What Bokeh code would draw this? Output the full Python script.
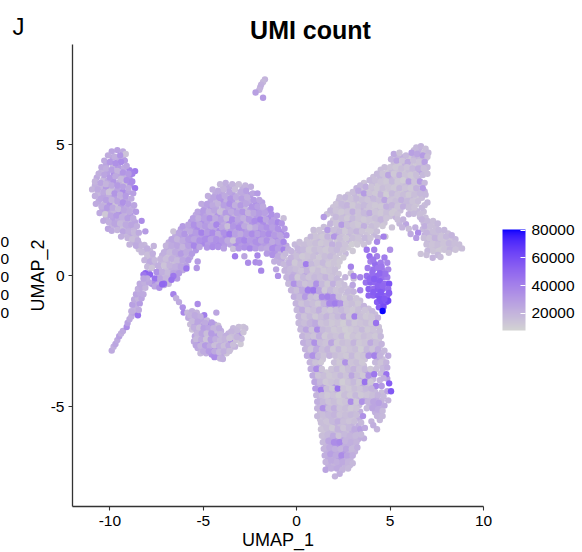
from bokeh.plotting import figure
from bokeh.layouts import column as col_layout
from bokeh.models import LinearColorMapper, ColorBar, FixedTicker, Range1d, ColumnDataSource
from bokeh.core.properties import value
from bokeh.embed import file_html
from bokeh.resources import INLINE

title_text = "UMI count"
panel_letter = "J"
x_label = "UMAP_1"
y_label = "UMAP_2"
x_ticks = [-10, -5, 0, 5, 10]
y_ticks = [-5, 0, 5]
bar_ticks = [20000, 40000, 60000, 80000]
clipped_digits = ["0", "0", "0", "0", "0"]

# every cell: (UMAP_1, UMAP_2, UMI count in thousands)
top_islet = [(-1.7,7.5,20),(-1.8,7.4,18),(-1.9,7.3,21),(-1.95,7.2,22),(-2.0,7.1,20),(-2.2,7.0,28),(-1.8,6.8,30)]

left_lobe = [
(-9.9,4.75,26),(-9.6,4.8,27),(-9.3,4.75,24),(-9.15,4.65,14),(-10.1,4.6,23),(-9.75,4.55,22),(-9.45,4.6,32),(-9.2,4.4,30),
(-10.3,4.4,24),(-10.0,4.35,31),(-9.7,4.3,34),(-9.4,4.35,36),(-9.1,4.2,26),(-8.65,4.0,42),(-8.8,3.9,40),(-10.45,4.15,24),
(-10.2,4.1,22),(-9.9,4.05,28),(-9.6,4.0,20),(-9.3,3.95,32),(-9.0,3.9,30),(-10.6,3.9,22),(-10.3,3.85,26),(-10.0,3.75,30),
(-9.7,3.8,24),(-9.4,3.7,18),(-9.1,3.65,34),(-8.8,3.6,36),(-8.65,3.35,44),(-10.8,3.6,20),(-10.5,3.55,26),(-10.2,3.5,20),
(-9.9,3.45,24),(-9.6,3.45,30),(-9.3,3.4,28),(-9.0,3.35,24),(-8.75,3.15,28),(-10.95,3.3,20),(-10.65,3.3,24),(-10.35,3.2,24),
(-10.05,3.2,14),(-9.75,3.15,32),(-9.45,3.1,22),(-9.15,3.05,30),(-8.85,2.95,24),(-10.8,3.05,22),(-10.5,2.95,26),(-10.2,2.9,28),
(-9.9,2.9,20),(-9.6,2.85,26),(-9.3,2.8,34),(-9.0,2.75,28),(-8.7,2.7,26),(-10.75,2.75,24),(-10.45,2.65,22),(-10.15,2.6,30),
(-9.85,2.6,24),(-9.55,2.55,18),(-9.25,2.5,26),(-8.95,2.45,24),(-8.6,2.45,30),(-10.55,2.4,24),(-10.25,2.35,12),(-9.95,2.3,26),
(-9.65,2.3,30),(-9.35,2.25,22),(-9.05,2.2,28),(-8.75,2.2,24),(-8.3,2.1,36),(-10.35,2.1,24),(-10.05,2.05,22),(-9.75,2.0,26),
(-9.45,2.0,18),(-9.15,1.95,24),(-8.85,1.95,26),(-8.55,1.9,22),(-10.1,1.8,26),(-9.9,1.72,24),(-9.6,1.75,20),(-9.3,1.7,26),
(-9.0,1.7,22),(-8.7,1.65,18),(-8.45,1.65,24),(-8.1,1.7,30),(-9.4,1.5,22),(-9.05,1.45,20),(-8.8,1.4,16),(-8.5,1.35,22),
(-8.95,1.2,20),(-8.6,1.15,24),(-8.3,1.15,20),(-8.0,1.05,22),(-7.65,1.14,20),(-8.3,0.9,18),(-8.0,0.8,16),(-7.7,0.85,22),
(-8.15,0.6,20),(-7.85,0.55,24),(-7.6,0.6,18),(-8.0,0.35,18),(-7.75,0.3,14),(-7.9,0.1,26),
]

left_lobe_more = [
(-9.85,4.52,28),(-9.55,4.48,24),(-9.3,4.55,20),(-10.2,4.25,26),(-9.85,4.2,18),(-9.55,4.15,30),(-9.25,4.12,24),(-8.95,4.03,38),
(-10.45,3.98,20),(-10.15,3.92,28),(-9.8,3.93,34),(-9.5,3.85,26),(-9.2,3.78,22),(-8.95,3.72,30),(-10.7,3.75,24),(-10.35,3.68,18),
(-10.1,3.63,24),(-9.8,3.6,32),(-9.5,3.58,22),(-9.2,3.52,14),(-8.9,3.48,34),(-10.8,3.45,22),(-10.5,3.4,20),(-10.2,3.35,30),
(-9.9,3.3,16),(-9.6,3.28,26),(-9.3,3.22,36),(-9.0,3.2,26),(-10.65,3.15,18),(-10.35,3.05,26),(-10.05,3.03,22),(-9.75,3.0,28),
(-9.45,2.95,20),(-9.15,2.9,26),(-10.6,2.85,24),(-10.3,2.75,20),(-10.0,2.75,32),(-9.7,2.72,14),(-9.4,2.67,28),(-9.1,2.6,24),
(-8.8,2.55,22),(-10.4,2.5,26),(-10.1,2.45,24),(-9.8,2.43,20),(-9.5,2.4,32),(-9.2,2.35,20),(-8.9,2.33,30),(-10.2,2.2,22),
(-9.85,2.15,28),(-9.55,2.13,24),(-9.25,2.1,20),(-8.95,2.08,18),(-8.65,2.05,26),(-9.9,1.9,20),(-9.6,1.88,26),(-9.3,1.85,16),
(-9.0,1.82,24),(-8.7,1.8,20),(-9.15,1.58,18),(-8.85,1.55,24),(-8.6,1.5,18),(-8.75,1.28,22),(-8.45,1.25,20),(-8.15,1.18,18),
(-8.45,1.02,16),(-8.15,0.93,20),(-7.85,0.95,18),(-8.0,0.68,14),(-7.72,0.7,20),(-7.9,0.45,22),(-7.62,0.42,20),
]

arch = [
(-4.1,3.5,18),(-3.8,3.55,22),(-3.45,3.5,20),(-3.1,3.5,16),(-2.75,3.45,20),(-2.45,3.4,22),(-4.5,3.3,22),(-4.2,3.25,24),(-3.9,3.3,20),
(-3.6,3.2,26),(-3.3,3.3,16),(-3.0,3.2,24),(-2.7,3.25,28),(-2.35,3.15,26),(-2.1,3.15,30),(-4.75,3.05,22),(-4.45,3.0,26),(-4.15,3.0,30),
(-3.85,3.05,24),(-3.55,2.95,32),(-3.25,3.0,24),(-2.95,2.95,28),(-2.65,3.0,22),(-2.3,2.9,30),(-2.0,2.9,26),(-5.1,2.75,24),(-4.8,2.75,28),
(-4.5,2.7,24),(-4.2,2.75,20),(-3.9,2.7,28),(-3.6,2.75,34),(-3.3,2.7,22),(-3.0,2.7,30),(-2.7,2.75,26),(-2.4,2.65,32),(-2.1,2.65,28),
(-1.8,2.65,24),(-1.4,2.55,36),(-5.3,2.45,26),(-5.0,2.5,30),(-4.7,2.45,22),(-4.4,2.5,26),(-4.1,2.45,16),(-3.8,2.4,30),(-3.5,2.45,24),
(-3.2,2.4,28),(-2.9,2.45,32),(-2.6,2.4,20),(-2.3,2.4,26),(-2.0,2.4,30),(-1.7,2.4,28),(-1.35,2.35,34),(-1.05,2.3,30),(-0.7,2.2,16),
(-5.55,2.2,28),(-5.25,2.2,22),(-4.95,2.2,28),(-4.65,2.2,34),(-4.35,2.2,24),(-4.05,2.15,28),(-3.75,2.2,18),(-3.45,2.15,36),(-3.15,2.15,26),
(-2.85,2.2,22),(-2.55,2.15,30),(-2.25,2.1,36),(-1.95,2.15,40),(-1.65,2.15,26),(-1.35,2.05,30),(-1.0,2.05,38),(-0.8,2.0,32),
(-6.1,1.9,30),(-5.8,1.95,26),(-5.5,1.95,34),(-5.2,1.95,26),(-4.9,1.9,30),(-4.6,1.9,24),(-4.3,1.95,38),(-4.0,1.85,26),(-3.7,1.9,16),
(-3.4,1.9,32),(-3.1,1.85,36),(-2.8,1.9,24),(-2.5,1.85,18),(-2.2,1.85,24),(-1.9,1.85,30),(-1.6,1.85,34),(-1.3,1.85,28),(-1.0,1.8,34),(-0.65,1.8,30),
(-6.6,1.7,14),(-6.3,1.65,26),(-6.0,1.6,32),(-5.7,1.7,24),(-5.4,1.65,30),(-5.1,1.65,40),(-4.8,1.65,30),(-4.5,1.65,36),(-4.2,1.6,24),
(-3.9,1.65,34),(-3.6,1.6,42),(-3.3,1.6,28),(-3.0,1.6,24),(-2.7,1.6,30),(-2.4,1.6,36),(-2.1,1.6,28),(-1.8,1.6,32),(-1.5,1.6,36),(-1.2,1.55,30),(-0.9,1.55,26),(-0.55,1.55,34),
(-6.7,1.4,26),(-6.4,1.4,20),(-6.1,1.35,24),(-5.8,1.4,30),(-5.5,1.4,26),(-5.2,1.35,34),(-4.9,1.4,36),(-4.6,1.4,28),(-4.3,1.4,34),(-4.0,1.35,32),
(-3.7,1.35,24),(-3.4,1.35,14),(-3.1,1.35,34),(-2.8,1.35,38),(-2.5,1.35,30),(-2.2,1.3,34),(-1.9,1.35,26),(-1.6,1.35,34),(-1.3,1.3,24),(-1.0,1.3,28),(-0.7,1.3,38),
(-7.0,1.15,20),(-6.7,1.15,24),(-6.4,1.15,26),(-6.1,1.1,20),(-5.8,1.15,28),(-5.5,1.15,38),(-5.2,1.1,26),(-4.8,1.08,32),(-4.5,1.1,36),(-4.2,1.1,34),(-3.9,1.05,28),
(-3.4,1.03,16),(-3.1,1.05,32),(-2.8,1.08,34),(-2.5,1.05,38),(-2.2,1.05,30),(-1.9,1.05,26),(-1.6,1.05,24),(-1.3,1.05,36),(-1.0,1.05,30),(-0.7,1.0,40),
(-7.1,0.9,22),(-6.8,0.9,18),(-6.5,0.9,24),(-6.2,0.85,30),(-5.9,0.9,24),(-5.6,0.85,30),(-3.3,0.75,42),(-2.8,0.75,26),(-2.1,0.78,38),(-1.6,0.85,30),(-1.3,0.8,34),(-1.0,0.75,24),(-0.7,0.75,16),
(-7.3,0.65,20),(-7.0,0.65,16),(-6.7,0.65,22),(-6.4,0.6,18),(-6.1,0.6,26),(-5.8,0.6,30),(-5.3,0.55,30),(-2.6,0.5,36),(-2.2,0.52,36),(-1.2,0.55,22),(-0.9,0.5,22),
(-7.4,0.4,22),(-7.1,0.4,14),(-6.8,0.4,20),(-6.5,0.35,22),(-6.2,0.35,26),(-5.9,0.38,28),(-2.0,0.5,34),(-1.9,0.2,38),(-1.1,0.25,26),
(-7.5,0.15,34),(-7.2,0.15,22),(-6.9,0.12,18),(-6.6,0.1,26),(-6.3,0.1,30),(-5.9,0.28,44),(-5.35,0.3,32),(-1.0,0.0,34),
(-8.1,0.1,52),(-7.85,0.05,50),(-7.6,-0.1,46),(-7.3,-0.12,26),(-7.0,-0.1,20),(-6.7,-0.12,24),(-6.4,-0.1,30),(-6.6,0.0,44),(-8.2,0.05,44),
(-7.75,-0.3,36),(-7.4,-0.35,22),(-7.1,-0.35,24),(-6.85,-0.3,18),(-6.7,-0.15,46),
]

arch_more = [
(-3.95,3.42,20),(-3.62,3.38,24),(-3.28,3.42,18),(-2.9,3.36,22),(-4.35,3.15,24),(-4.0,3.17,26),(-3.7,3.08,18),(-3.42,3.12,28),(-3.12,3.08,20),(-2.82,3.1,24),(-2.5,3.08,30),
(-4.6,2.88,26),(-4.3,2.87,20),(-4.05,2.88,32),(-3.75,2.85,22),(-3.42,2.83,30),(-3.12,2.84,16),(-2.8,2.85,26),(-2.52,2.85,24),(-2.18,2.78,34),(-1.85,2.8,28),
(-4.92,2.62,26),(-4.6,2.6,30),(-4.3,2.62,24),(-3.98,2.56,18),(-3.68,2.6,26),(-3.38,2.57,32),(-3.08,2.55,24),(-2.78,2.58,18),(-2.48,2.53,28),(-2.18,2.52,34),(-1.88,2.52,26),(-1.58,2.5,30),
(-5.4,2.33,24),(-5.12,2.35,30),(-4.82,2.33,26),(-4.52,2.35,20),(-4.22,2.32,32),(-3.92,2.3,24),(-3.62,2.3,30),(-3.32,2.28,20),(-3.02,2.3,26),(-2.72,2.3,34),(-2.42,2.27,24),(-2.12,2.27,30),(-1.82,2.28,22),(-1.5,2.2,36),(-1.2,2.18,28),
(-5.65,2.07,30),(-5.35,2.08,24),(-5.05,2.07,34),(-4.78,2.05,28),(-4.48,2.07,22),(-4.18,2.04,30),(-3.9,2.02,24),(-3.6,2.03,36),(-3.28,2.02,28),(-2.98,2.03,32),(-2.68,2.03,20),(-2.38,2.0,32),(-2.08,2.0,28),(-1.78,2.0,36),(-1.48,1.97,24),(-1.15,1.93,32),
(-6.2,1.78,28),(-5.9,1.78,24),(-5.6,1.82,30),(-5.3,1.8,36),(-5.02,1.78,24),(-4.72,1.77,32),(-4.42,1.78,26),(-4.12,1.73,36),(-3.82,1.77,22),(-3.52,1.76,30),(-3.22,1.73,26),(-2.92,1.75,34),(-2.62,1.73,28),(-2.32,1.72,30),(-2.02,1.73,36),(-1.72,1.73,26),(-1.42,1.72,32),(-1.12,1.68,26),(-0.82,1.67,36),
(-6.5,1.52,24),(-6.2,1.5,28),(-5.9,1.5,22),(-5.6,1.53,32),(-5.3,1.5,28),(-5.0,1.52,30),(-4.7,1.53,38),(-4.4,1.52,30),(-4.1,1.48,26),(-3.8,1.5,36),(-3.5,1.47,30),(-3.2,1.48,24),(-2.9,1.47,34),(-2.6,1.47,26),(-2.3,1.45,30),(-2.0,1.47,36),(-1.7,1.48,28),(-1.4,1.45,26),(-1.1,1.43,34),(-0.8,1.42,24),
(-6.85,1.28,22),(-6.55,1.28,26),(-6.25,1.25,22),(-5.95,1.25,28),(-5.65,1.28,34),(-5.35,1.25,30),(-5.05,1.23,38),(-4.75,1.24,30),(-4.45,1.25,34),(-4.15,1.22,36),(-3.85,1.2,30),(-3.55,1.2,26),(-3.25,1.2,36),(-2.95,1.22,30),(-2.65,1.2,32),(-2.35,1.17,28),(-2.05,1.2,34),(-1.75,1.2,30),(-1.45,1.18,26),(-1.15,1.17,36),(-0.85,1.15,30),(-0.55,1.15,24),
(-6.95,1.02,24),(-6.65,1.02,20),(-6.35,1.0,22),(-6.05,0.98,26),(-5.75,1.02,24),(-5.4,0.98,32),(-1.45,0.93,28),(-1.15,0.9,32),(-0.85,0.88,20),
(-7.2,0.78,22),(-6.9,0.78,14),(-6.6,0.75,20),(-6.3,0.73,24),(-6.0,0.75,22),(-5.7,0.72,26),(-1.05,0.62,20),(-0.8,0.63,24),
(-7.25,0.52,18),(-6.95,0.52,20),(-6.6,0.5,16),(-6.3,0.48,24),(-6.0,0.48,20),(-7.35,0.28,20),(-7.0,0.27,16),(-6.7,0.23,22),(-6.4,0.22,24),(-6.1,0.22,24),
(-7.35,0.02,24),(-7.05,0.0,18),(-6.8,0.02,22),(-6.5,-0.02,28),(-7.5,-0.22,28),(-7.2,-0.22,20),(-6.95,-0.22,22),
]

tail = [
(-9.9,-2.85,24),(-9.8,-2.7,22),(-9.7,-2.6,26),(-9.6,-2.45,24),(-9.5,-2.3,28),(-9.4,-2.2,22),(-9.3,-2.1,24),(-9.1,-1.95,36),(-9.05,-1.8,28),
(-8.95,-1.65,24),(-8.85,-1.55,22),(-8.75,-1.4,26),(-8.65,-1.3,20),(-8.85,-1.35,22),(-8.5,-1.5,46),(-8.45,-1.3,24),(-8.6,-1.1,22),(-8.8,-1.1,28),(-8.4,-1.05,30),
(-8.7,-0.9,24),(-8.5,-0.85,20),(-8.3,-0.85,26),(-8.6,-0.7,26),(-8.4,-0.65,24),(-8.2,-0.7,24),(-8.5,-0.5,22),(-8.3,-0.45,24),(-8.1,-0.45,20),(-8.4,-0.3,24),
(-8.15,-0.25,22),(-7.9,-0.25,26),(-7.6,-0.4,26),(-7.35,-0.45,34),(-7.1,-0.3,48),(-7.2,-0.32,50),(-8.0,-0.1,24),(-8.2,-0.1,26),
]

lower_blob = [
(-6.6,-0.7,40),(-6.45,-0.85,22),(-6.3,-1.0,24),(-6.1,-1.2,34),(-6.05,-1.4,38),(-5.3,-1.07,36),(-4.3,-1.4,26),
(-5.85,-1.4,18),(-5.6,-1.35,22),(-5.35,-1.4,20),(-4.95,-1.5,42),(-5.8,-1.6,24),(-5.55,-1.6,28),(-5.3,-1.6,24),(-5.05,-1.7,26),(-4.8,-1.7,18),
(-5.7,-1.85,16),(-5.45,-1.85,30),(-5.2,-1.85,22),(-4.95,-1.9,30),(-4.7,-1.9,36),(-4.4,-1.85,24),(-4.2,-1.9,16),(-5.6,-2.05,14),(-5.35,-2.1,24),
(-5.1,-2.1,34),(-4.85,-2.1,28),(-4.6,-2.1,22),(-4.3,-2.1,18),(-4.05,-2.1,22),(-3.4,-2.0,18),(-3.1,-1.95,16),(-2.85,-1.95,14),(-2.75,-2.0,16),
(-5.45,-2.3,26),(-5.2,-2.3,18),(-4.95,-2.3,30),(-4.7,-2.3,10),(-4.45,-2.3,28),(-4.2,-2.3,30),(-3.95,-2.35,14),(-3.65,-2.2,20),(-3.35,-2.2,16),(-3.05,-2.2,30),(-2.85,-2.15,14),
(-5.5,-2.5,24),(-5.25,-2.55,32),(-5.0,-2.5,12),(-4.75,-2.55,24),(-4.5,-2.55,30),(-4.25,-2.55,14),(-4.0,-2.55,24),(-3.75,-2.5,18),(-3.5,-2.5,40),(-3.25,-2.45,14),(-3.0,-2.6,12),(-2.95,-2.4,18),
(-5.3,-2.75,24),(-5.05,-2.8,22),(-4.8,-2.8,28),(-4.55,-2.8,36),(-4.3,-2.75,32),(-4.05,-2.8,18),(-3.8,-2.8,20),(-3.55,-2.8,14),(-3.3,-2.7,20),
(-5.15,-2.95,18),(-4.85,-2.95,22),(-4.55,-3.0,34),(-4.25,-3.0,26),(-4.0,-3.0,24),(-3.75,-2.95,14),(-4.4,-3.1,36),(-4.1,-3.15,20),(-3.95,-3.17,22),
(-5.7,-1.5,20),(-5.45,-1.5,24),(-5.15,-1.55,22),(-5.6,-1.73,18),(-5.3,-1.75,26),(-4.9,-1.8,24),(-4.55,-1.78,30),(-5.5,-1.97,22),(-5.22,-1.98,16),(-4.98,-2.0,28),(-4.72,-2.0,26),(-4.45,-2.0,20),(-4.15,-2.0,24),(-3.2,-2.08,18),(-3.5,-2.12,20),
(-5.33,-2.2,20),(-5.08,-2.2,26),(-4.82,-2.2,16),(-4.57,-2.2,30),(-4.1,-2.22,18),(-3.8,-2.28,22),(-3.5,-2.33,16),(-3.2,-2.33,20),(-5.38,-2.42,18),(-5.1,-2.43,24),(-4.85,-2.42,14),(-4.6,-2.42,28),(-4.35,-2.42,22),(-4.1,-2.45,18),(-3.85,-2.4,20),(-3.6,-2.38,14),
(-5.4,-2.65,26),(-5.15,-2.67,20),(-4.9,-2.65,30),(-4.65,-2.68,24),(-4.4,-2.65,16),(-4.15,-2.68,22),(-3.9,-2.67,16),(-3.65,-2.65,24),(-3.4,-2.62,16),(-5.0,-2.88,24),(-4.7,-2.88,30),(-4.4,-2.88,24),(-4.15,-2.9,18),(-3.9,-2.88,22),(-3.6,-2.87,16),
]

upper_band = [
(6.4,4.9,18),(6.65,4.95,20),(6.9,4.85,16),(7.05,4.7,18),(5.2,4.65,24),(5.5,4.7,14),(5.85,4.6,18),(6.15,4.7,28),(6.45,4.65,26),(6.75,4.6,30),(7.0,4.55,16),
(5.05,4.45,20),(5.35,4.4,26),(5.65,4.4,14),(5.95,4.35,24),(6.25,4.4,16),(6.55,4.35,14),(6.85,4.35,28),(7.0,4.15,18),
(4.7,4.15,16),(5.0,4.15,14),(5.3,4.15,12),(5.6,4.1,16),(5.9,4.15,14),(6.2,4.1,18),(6.5,4.1,22),(6.8,4.1,16),
(4.5,4.05,16),(4.3,3.9,18),(4.6,3.9,14),(4.9,3.85,26),(5.2,3.9,12),(5.5,3.85,22),(5.8,3.85,14),(6.1,3.85,12),(6.4,3.85,16),(6.75,3.85,18),(7.0,3.9,16),
(3.9,3.65,18),(4.2,3.65,16),(4.5,3.6,14),(4.8,3.6,12),(5.1,3.6,18),(5.4,3.6,12),(5.7,3.65,10),(6.0,3.6,28),(6.3,3.6,14),(6.6,3.6,30),(6.85,3.55,18),
(3.4,3.45,18),(3.7,3.4,22),(4.0,3.4,14),(4.3,3.35,12),(4.6,3.35,16),(4.9,3.4,14),(5.2,3.35,12),(5.5,3.35,18),(5.8,3.35,14),(6.1,3.35,12),(6.4,3.35,20),(6.75,3.35,30),
(3.0,3.2,16),(3.3,3.25,24),(3.6,3.15,30),(3.9,3.15,14),(4.2,3.15,12),(4.5,3.1,20),(4.8,3.1,10),(5.1,3.15,18),(5.4,3.1,14),(5.7,3.1,16),(6.0,3.1,12),(6.3,3.1,16),(6.6,3.15,18),(6.9,3.1,18),
(2.3,3.0,16),(2.6,3.0,18),(2.9,2.95,14),(3.2,2.95,18),(3.5,2.9,16),(3.8,2.9,14),(4.1,2.95,18),(4.4,2.85,16),(4.7,2.9,26),(5.0,2.85,14),(5.3,2.85,16),(5.6,2.9,22),(5.9,2.85,18),(6.2,2.85,14),(6.5,2.85,16),(7.0,2.8,18),
(2.1,2.75,14),(2.4,2.75,18),(2.7,2.7,20),(3.0,2.7,12),(3.3,2.65,16),(3.6,2.7,18),(3.9,2.65,14),(4.2,2.7,12),(4.5,2.65,12),(4.8,2.65,22),(5.1,2.7,20),(5.4,2.65,14),(5.7,2.65,22),(6.0,2.6,16),(6.3,2.6,14),(6.7,2.6,18),
(1.8,2.5,18),(2.1,2.5,14),(2.4,2.45,12),(2.7,2.45,14),(3.0,2.45,22),(3.3,2.45,14),(3.6,2.4,18),(3.9,2.4,24),(4.2,2.45,14),(4.5,2.4,12),(4.8,2.4,16),(5.1,2.4,12),(5.4,2.35,14),(6.0,2.35,20),(6.27,2.37,18),(6.6,2.35,16),
(1.45,2.25,30),(2.1,2.25,18),(2.4,2.2,16),(2.7,2.2,12),(3.0,2.2,18),(3.3,2.2,14),(3.6,2.15,12),(3.9,2.15,14),(4.2,2.2,16),(4.5,2.15,20),(4.8,2.2,14),(5.4,2.15,16),(5.7,2.15,20),(6.7,2.15,20),(7.0,2.1,18),(7.3,2.1,16),
(1.8,2.0,20),(2.1,2.0,14),(2.4,1.95,30),(2.7,1.95,16),(3.0,1.95,14),(3.3,1.95,12),(3.6,1.9,22),(4.0,1.9,16),(4.3,1.95,14),(4.6,1.9,12),(5.1,1.85,14),(5.65,1.85,20),(6.0,1.8,16),(6.35,1.85,22),(6.85,1.9,22),(7.15,1.9,16),(7.55,2.0,18),
(0.9,1.75,16),(1.2,1.75,14),(1.65,1.75,30),(2.0,1.75,16),(2.3,1.7,18),(2.6,1.7,12),(2.9,1.7,16),(3.2,1.7,20),(3.5,1.7,14),(3.95,1.7,12),(4.3,1.7,16),(6.1,1.6,24),(6.5,1.65,36),(6.95,1.65,20),(7.3,1.7,16),(7.6,1.75,18),(7.9,1.75,18),
(0.75,1.5,18),(1.05,1.5,14),(1.35,1.5,12),(1.65,1.5,20),(2.0,1.5,32),(2.3,1.45,16),(2.65,1.45,12),(3.0,1.45,16),(3.3,1.45,14),(3.65,1.45,18),(3.95,1.45,14),(4.35,1.45,20),(4.75,1.5,12),(6.4,1.45,30),(6.8,1.45,16),(7.1,1.45,14),(7.4,1.45,20),(7.7,1.45,14),(8.0,1.5,18),(8.3,1.55,20),
(0.4,1.2,16),(0.7,1.25,14),(1.0,1.25,16),(1.3,1.25,12),(1.6,1.25,14),(1.9,1.2,22),(2.25,1.2,18),(2.6,1.2,14),(2.95,1.2,10),(3.25,1.2,12),(3.6,1.2,14),(6.95,1.2,16),(7.25,1.2,14),(7.55,1.2,16),(7.85,1.25,14),(8.15,1.25,18),(8.45,1.25,16),(8.7,1.2,16),
(0.05,1.05,20),(0.35,1.0,18),(0.65,1.0,12),(0.95,1.0,16),(1.25,1.0,14),(1.55,1.0,12),(1.85,1.0,16),(2.15,1.0,18),(2.5,1.0,14),(3.0,0.95,12),(7.0,0.95,18),(7.3,0.95,14),(7.6,0.95,12),(7.9,1.0,14),(8.2,1.0,18),(8.5,1.0,14),(8.85,1.05,16),
(-0.3,0.95,20),(6.64,0.84,14),(6.95,0.8,16),(7.28,0.69,20),(7.55,0.8,18),(8.14,0.88,14),(7.7,0.72,16),
]

upper_band_more = [
(6.28,4.8,16),(6.55,4.8,22),(6.82,4.72,14),(5.38,4.55,18),(5.7,4.53,22),(6.0,4.52,12),(6.3,4.53,20),(6.6,4.5,18),(6.9,4.47,16),(5.2,4.28,16),(5.5,4.25,12),(5.8,4.27,20),(6.1,4.23,14),(6.4,4.22,12),(6.7,4.22,18),
(4.85,4.0,12),(5.1,4.03,18),(5.4,3.98,14),(5.7,4.0,12),(6.0,3.98,16),(6.3,3.97,14),(6.6,3.97,26),(6.9,4.0,14),(4.1,3.78,16),(4.45,3.75,18),(4.75,3.72,14),(5.0,3.73,20),(5.3,3.73,14),(5.6,3.72,12),(5.9,3.72,16),(6.2,3.72,12),(6.5,3.72,18),
(3.6,3.55,14),(4.05,3.52,18),(4.35,3.5,12),(4.65,3.48,14),(4.95,3.5,16),(5.25,3.48,12),(5.55,3.48,14),(5.85,3.48,16),(6.15,3.48,14),(6.45,3.48,12),(6.7,3.47,16),(3.2,3.35,20),(3.5,3.28,14),(3.8,3.28,12),(4.1,3.27,16),(4.4,3.23,18),(4.7,3.23,12),(5.0,3.25,14),(5.3,3.23,16),(5.6,3.22,12),(5.9,3.22,18),(6.2,3.22,14),(6.5,3.23,16),(6.85,3.22,20),
(2.75,3.1,14),(3.1,3.07,18),(3.4,3.07,12),(3.7,3.03,16),(4.0,3.05,24),(4.3,3.0,14),(4.6,3.0,12),(4.95,2.98,16),(5.2,3.0,14),(5.5,2.98,12),(5.8,2.97,14),(6.1,2.97,18),(6.4,2.97,12),(6.7,2.98,16),
(2.25,2.87,18),(2.5,2.87,14),(2.8,2.83,12),(3.1,2.82,16),(3.4,2.78,12),(3.7,2.8,18),(4.0,2.78,14),(4.3,2.77,20),(4.6,2.77,14),(4.95,2.77,12),(5.2,2.77,16),(5.5,2.77,12),(5.8,2.75,14),(6.1,2.73,16),(6.4,2.73,12),(6.85,2.7,16),
(1.95,2.62,14),(2.25,2.62,16),(2.55,2.58,18),(2.85,2.58,14),(3.15,2.55,12),(3.45,2.55,20),(3.75,2.53,14),(4.05,2.53,12),(4.35,2.55,16),(4.65,2.52,14),(4.95,2.53,18),(5.25,2.52,12),(5.55,2.5,16),(6.15,2.47,14),(6.45,2.47,18),(6.8,2.45,16),
(1.62,2.35,14),(1.95,2.38,16),(2.25,2.33,12),(2.55,2.33,18),(2.85,2.33,14),(3.15,2.33,12),(3.45,2.3,14),(3.75,2.28,18),(4.05,2.3,12),(4.35,2.3,14),(4.65,2.28,16),(5.0,2.28,14),(5.3,2.25,20),(6.6,2.25,18),(6.9,2.22,16),
(1.95,2.13,14),(2.25,2.1,12),(2.55,2.08,16),(2.85,2.08,22),(3.15,2.08,12),(3.45,2.05,16),(3.75,2.03,14),(4.1,2.03,12),(4.4,2.05,18),(4.7,2.03,14),(5.5,2.0,18),(5.85,1.97,26),(6.8,2.02,16),(7.15,2.02,18),(7.4,1.98,14),
(0.95,1.62,12),(1.3,1.62,16),(1.55,1.63,14),(1.85,1.63,12),(2.15,1.6,24),(2.45,1.58,14),(2.8,1.58,18),(3.1,1.58,12),(3.4,1.58,16),(3.75,1.58,14),(4.15,1.58,18),(1.45,1.87,16),(1.75,1.88,14),(2.15,1.85,16),(2.5,1.83,12),(2.8,1.83,18),(3.1,1.83,14),(3.4,1.82,16),(3.75,1.8,12),(4.15,1.82,14),
(6.75,1.78,18),(7.05,1.78,14),(7.45,1.85,16),(7.75,1.62,14),(7.45,1.58,16),(7.15,1.58,18),(6.85,1.55,22),(8.1,1.62,16),(7.0,1.33,18),(7.3,1.33,14),(7.6,1.33,18),(7.9,1.37,12),(8.2,1.4,14),(8.5,1.4,18),(7.15,1.08,14),(7.45,1.08,16),(7.75,1.1,12),(8.05,1.12,14),(8.35,1.13,16),(8.65,1.08,14),
(0.55,1.37,14),(0.9,1.37,12),(1.2,1.37,18),(1.5,1.37,14),(1.8,1.35,16),(2.15,1.33,12),(2.45,1.33,14),(2.8,1.33,18),(3.15,1.33,12),(3.45,1.33,14),(3.85,1.3,16),(0.2,1.12,14),(0.5,1.12,16),(0.8,1.12,12),(1.1,1.12,14),(1.4,1.12,18),(1.7,1.12,12),(2.0,1.1,14),(2.35,1.1,16),(2.75,1.08,12),
(-0.15,0.87,16),(0.15,0.9,20),(0.45,0.88,14),(0.75,0.87,12),(1.05,0.9,18),(1.35,0.87,14),(1.65,0.88,12),(1.95,0.87,16),(2.28,0.87,14),(2.62,0.85,18),(-0.45,1.02,22),(-0.1,1.2,18),(0.15,1.3,16),
]

column = [
(-0.6,0.85,18),(-0.3,0.7,20),(0.0,0.75,16),(0.3,0.75,12),(0.6,0.75,14),(0.9,0.75,16),(1.2,0.7,12),(1.5,0.75,16),(1.8,0.75,18),(2.1,0.7,14),(2.5,0.7,12),
(-0.7,0.45,18),(-0.4,0.5,22),(-0.1,0.5,12),(0.2,0.45,16),(0.5,0.45,42),(0.8,0.45,18),(1.1,0.5,14),(1.4,0.5,18),(1.7,0.45,12),(2.0,0.5,14),(2.3,0.55,12),
(-0.65,0.2,20),(-0.35,0.25,18),(-0.05,0.25,16),(0.25,0.2,14),(0.55,0.2,20),(0.85,0.25,12),(1.15,0.2,16),(1.45,0.2,12),(1.75,0.2,14),(2.05,0.25,16),(2.9,0.1,14),
(-0.55,-0.05,20),(-0.25,-0.05,24),(0.05,-0.05,12),(0.35,-0.05,18),(0.65,-0.05,14),(0.95,-0.05,18),(1.25,-0.05,16),(1.55,-0.05,20),(1.85,-0.05,14),(2.15,-0.1,18),(2.6,-0.05,20),(3.05,-0.1,16),
(-0.45,-0.3,18),(-0.15,-0.3,34),(0.15,-0.3,20),(0.45,-0.3,14),(0.75,-0.3,16),(1.05,-0.3,34),(1.35,-0.3,18),(1.65,-0.3,12),(1.95,-0.3,22),(2.25,-0.3,14),(2.55,-0.35,16),(3.0,-0.35,26),
(-0.3,-0.55,20),(0.0,-0.55,16),(0.3,-0.55,24),(0.6,-0.55,42),(0.9,-0.55,44),(1.2,-0.55,26),(1.5,-0.55,12),(1.8,-0.55,18),(2.1,-0.55,14),(2.4,-0.55,16),(2.75,-0.6,18),(3.05,-0.6,20),
(-0.15,-0.8,22),(0.15,-0.8,18),(0.45,-0.8,30),(0.75,-0.8,16),(1.05,-0.8,14),(1.35,-0.8,38),(1.65,-0.8,40),(1.95,-0.8,36),(2.25,-0.8,16),(2.55,-0.85,12),(2.85,-0.85,18),(3.2,-0.85,14),
(-0.05,-1.05,20),(0.25,-1.05,14),(0.55,-1.05,18),(0.85,-1.05,16),(1.15,-1.05,12),(1.45,-1.05,20),(1.75,-1.05,38),(2.05,-1.05,42),(2.35,-1.05,34),(2.65,-1.05,14),(2.95,-1.05,16),(3.3,-1.05,12),(3.6,-1.15,20),
(0.0,-1.3,18),(0.3,-1.3,24),(0.6,-1.3,14),(0.9,-1.3,16),(1.2,-1.3,22),(1.5,-1.3,14),(1.8,-1.3,12),(2.1,-1.3,16),(2.4,-1.3,18),(2.7,-1.3,14),(3.0,-1.3,12),(3.3,-1.3,16),(3.65,-1.3,14),(4.05,-1.35,18),
(0.1,-1.55,20),(0.4,-1.55,14),(0.7,-1.55,18),(1.0,-1.55,12),(1.3,-1.55,16),(1.6,-1.55,20),(1.9,-1.55,14),(2.2,-1.55,18),(2.5,-1.55,26),(2.8,-1.55,12),(3.1,-1.55,40),(3.4,-1.55,16),(3.7,-1.55,12),(4.0,-1.55,14),(4.35,-1.6,20),
(0.1,-1.8,18),(0.4,-1.8,16),(0.7,-1.8,20),(1.0,-1.8,24),(1.3,-1.8,14),(1.6,-1.8,16),(1.9,-1.8,12),(2.2,-1.8,14),(2.5,-1.8,10),(2.8,-1.8,18),(3.1,-1.8,12),(3.4,-1.8,14),(3.7,-1.8,16),(4.0,-1.8,12),(4.25,-1.8,46),
(0.2,-2.05,18),(0.5,-2.05,26),(0.8,-2.05,14),(1.1,-2.05,36),(1.4,-2.05,18),(1.7,-2.05,16),(2.0,-2.05,12),(2.3,-2.05,14),(2.6,-2.05,10),(2.9,-2.05,12),(3.2,-2.05,14),(3.5,-2.05,18),(3.8,-2.05,12),(4.1,-2.05,14),(4.45,-2.1,16),
(0.3,-2.3,20),(0.6,-2.3,16),(0.9,-2.3,14),(1.2,-2.3,22),(1.5,-2.3,12),(1.8,-2.3,16),(2.1,-2.3,14),(2.4,-2.3,18),(2.7,-2.3,10),(3.0,-2.3,14),(3.3,-2.3,12),(3.6,-2.3,16),(3.9,-2.3,14),(4.2,-2.3,12),(4.5,-2.3,18),
(0.35,-2.55,22),(0.65,-2.55,18),(0.95,-2.55,34),(1.25,-2.55,16),(1.55,-2.55,14),(1.85,-2.55,26),(2.15,-2.55,12),(2.45,-2.55,16),(2.75,-2.55,14),(3.05,-2.55,20),(3.35,-2.55,12),(3.65,-2.55,14),(3.95,-2.55,24),(4.25,-2.55,16),(4.55,-2.6,20),
(0.45,-2.8,20),(0.75,-2.8,14),(1.05,-2.8,24),(1.35,-2.8,16),(1.65,-2.8,20),(1.95,-2.8,12),(2.25,-2.8,18),(2.55,-2.8,12),(2.85,-2.8,14),(3.15,-2.8,16),(3.45,-2.8,10),(3.75,-2.8,18),(4.05,-2.8,14),(4.35,-2.8,22),(4.7,-2.85,18),
(0.55,-3.05,24),(0.85,-3.05,34),(1.15,-3.05,18),(1.45,-3.05,14),(1.75,-3.05,20),(2.05,-3.05,16),(2.35,-3.05,14),(2.65,-3.05,12),(2.95,-3.05,18),(3.25,-3.05,12),(3.55,-3.05,14),(3.85,-3.05,34),(4.15,-3.05,40),(4.45,-3.05,20),(4.9,-3.05,24),
(0.7,-3.3,20),(1.0,-3.3,14),(1.3,-3.3,12),(2.0,-3.3,16),(2.3,-3.3,12),(2.6,-3.3,34),(2.9,-3.3,14),(3.2,-3.3,16),(3.5,-3.3,12),(4.2,-3.3,18),(4.5,-3.3,14),(4.8,-3.3,20),
(0.75,-3.55,22),(1.05,-3.55,36),(1.35,-3.55,14),(1.85,-3.55,14),(2.15,-3.55,18),(2.45,-3.55,12),(2.75,-3.55,16),(3.05,-3.55,20),(3.35,-3.55,14),(3.65,-3.55,18),(3.95,-3.55,12),(4.25,-3.55,16),(4.6,-3.55,18),(4.85,-3.5,22),
(0.85,-3.8,24),(1.15,-3.8,14),(1.45,-3.8,16),(1.75,-3.8,12),(2.05,-3.8,14),(2.35,-3.8,18),(2.65,-3.8,14),(2.95,-3.8,26),(3.25,-3.8,16),(3.55,-3.8,12),(3.85,-3.8,34),(4.15,-3.75,44),(4.8,-3.75,46),(4.65,-3.9,22),
(0.95,-4.05,26),(1.25,-4.05,18),(1.55,-4.05,12),(1.85,-4.05,14),(2.15,-4.05,16),(2.45,-4.05,10),(2.75,-4.05,14),(3.05,-4.05,18),(3.35,-4.05,12),(3.65,-4.05,46),(3.95,-4.05,12),(4.25,-4.2,38),(4.55,-4.2,30),(4.95,-4.1,54),
(1.0,-4.3,30),(1.3,-4.35,42),(1.6,-4.3,16),(1.9,-4.3,12),(2.2,-4.3,46),(2.5,-4.3,14),(2.8,-4.3,12),(3.1,-4.3,16),(3.4,-4.3,14),(3.7,-4.3,18),(4.0,-4.3,20),(4.85,-4.4,26),(5.05,-4.4,56),
(1.05,-4.55,20),(1.35,-4.55,16),(1.65,-4.55,12),(1.95,-4.55,14),(2.25,-4.55,10),(2.55,-4.55,16),(2.85,-4.55,12),(3.15,-4.55,18),(3.45,-4.55,12),(3.75,-4.55,14),(4.05,-4.55,16),(4.35,-4.55,20),(4.65,-4.6,18),(4.9,-4.75,20),
(1.1,-4.8,22),(1.4,-4.8,18),(1.7,-4.8,14),(2.0,-4.8,16),(2.3,-4.8,12),(2.6,-4.8,14),(2.9,-4.8,36),(3.2,-4.8,12),(3.5,-4.8,34),(3.8,-4.8,20),(4.1,-4.8,26),(4.4,-4.85,28),(4.7,-4.95,24),
(1.1,-5.05,20),(1.4,-5.05,34),(1.7,-5.05,16),(2.0,-5.05,22),(2.3,-5.05,14),(2.6,-5.05,16),(2.9,-5.05,12),(3.2,-5.05,14),(3.75,-5.05,18),(4.05,-5.05,26),(4.35,-5.1,24),(4.6,-5.15,18),
(1.1,-5.35,18),(1.4,-5.3,16),(1.7,-5.3,18),(2.0,-5.3,20),(2.3,-5.3,14),(2.6,-5.3,16),(2.9,-5.3,18),(3.2,-5.3,16),(3.55,-5.35,34),(4.3,-5.35,20),(4.6,-5.35,18),
(1.3,-5.6,16),(1.6,-5.55,14),(1.9,-5.55,18),(2.2,-5.55,22),(2.5,-5.55,16),(2.8,-5.55,14),(3.1,-5.55,16),(3.45,-5.6,18),(4.0,-5.55,20),(4.3,-5.85,20),(4.1,-5.7,22),
(1.3,-5.85,14),(1.6,-5.8,16),(1.9,-5.8,12),(2.2,-5.85,20),(2.5,-5.8,14),(2.8,-5.8,18),(3.1,-5.85,24),(3.4,-5.85,28),(3.65,-5.8,24),
(1.35,-6.1,16),(1.65,-6.05,18),(1.95,-6.1,24),(2.25,-6.1,14),(2.55,-6.05,18),(2.85,-6.1,20),(3.15,-6.1,18),(3.6,-6.2,22),(3.45,-6.05,18),
(1.4,-6.35,18),(1.7,-6.3,26),(2.0,-6.35,36),(2.3,-6.35,38),(2.6,-6.3,20),(2.9,-6.35,22),(3.2,-6.35,20),
(1.45,-6.6,20),(1.75,-6.55,24),(2.05,-6.6,22),(2.35,-6.6,20),(2.65,-6.6,26),(2.95,-6.6,18),(3.25,-6.55,22),
(1.5,-6.85,22),(1.8,-6.8,28),(2.1,-6.85,24),(2.4,-6.85,36),(2.7,-6.85,26),(3.0,-6.85,22),
(1.55,-7.1,20),(1.85,-7.05,24),(2.15,-7.1,22),(2.45,-7.1,24),(2.75,-7.1,20),(3.0,-7.15,18),
(1.55,-7.4,26),(1.85,-7.35,22),(2.15,-7.35,24),(2.45,-7.4,20),(2.75,-7.35,18),(2.05,-7.65,20),(2.3,-7.55,22),
]

column_more = [
(-0.45,0.6,16),(-0.15,0.63,14),(0.15,0.6,18),(0.45,0.62,14),(0.75,0.6,16),(1.05,0.63,12),(1.35,0.62,16),(1.65,0.6,14),(1.95,0.6,12),(2.2,0.62,16),
(-0.55,0.33,20),(-0.25,0.37,16),(0.05,0.35,14),(0.35,0.33,22),(0.65,0.33,16),(0.95,0.37,14),(1.25,0.35,12),(1.55,0.33,16),(1.85,0.33,14),(2.2,0.37,12),
(-0.45,0.08,18),(-0.15,0.1,22),(0.15,0.08,16),(0.45,0.08,26),(0.75,0.1,14),(1.05,0.08,16),(1.35,0.08,18),(1.65,0.08,12),(1.95,0.1,16),(2.25,0.07,14),
(-0.4,-0.18,22),(-0.1,-0.18,18),(0.2,-0.18,14),(0.5,-0.18,20),(0.8,-0.18,16),(1.1,-0.18,20),(1.4,-0.18,14),(1.7,-0.18,18),(2.0,-0.2,12),(2.35,-0.2,16),
(-0.2,-0.43,16),(0.1,-0.43,26),(0.4,-0.43,20),(0.7,-0.43,34),(1.0,-0.43,30),(1.3,-0.43,18),(1.6,-0.43,14),(1.9,-0.43,16),(2.25,-0.43,12),(2.6,-0.47,14),(2.9,-0.47,16),
(-0.1,-0.68,18),(0.2,-0.68,22),(0.5,-0.68,28),(0.8,-0.68,30),(1.1,-0.68,26),(1.4,-0.68,24),(1.7,-0.68,30),(2.0,-0.68,16),(2.3,-0.68,14),(2.65,-0.72,16),(2.95,-0.72,12),
(0.05,-0.93,16),(0.35,-0.93,20),(0.65,-0.93,14),(0.95,-0.93,18),(1.25,-0.93,24),(1.55,-0.93,30),(1.85,-0.93,36),(2.15,-0.93,34),(2.45,-0.93,18),(2.75,-0.95,14),(3.1,-0.95,12),(3.4,-0.95,16),
(0.1,-1.18,22),(0.4,-1.18,16),(0.7,-1.18,20),(1.0,-1.18,14),(1.3,-1.18,18),(1.6,-1.18,26),(1.9,-1.18,30),(2.2,-1.18,26),(2.5,-1.18,14),(2.8,-1.18,16),(3.15,-1.18,14),(3.45,-1.18,18),(3.85,-1.25,16),
(0.2,-1.43,16),(0.5,-1.43,18),(0.8,-1.43,14),(1.1,-1.43,20),(1.4,-1.43,12),(1.7,-1.43,16),(2.0,-1.43,18),(2.3,-1.43,14),(2.6,-1.43,16),(2.9,-1.43,12),(3.2,-1.43,18),(3.5,-1.43,14),(3.85,-1.45,12),(4.2,-1.47,16),
(0.25,-1.68,18),(0.55,-1.68,14),(0.85,-1.68,22),(1.15,-1.68,16),(1.45,-1.68,18),(1.75,-1.68,12),(2.05,-1.68,14),(2.35,-1.68,12),(2.65,-1.68,16),(2.95,-1.68,14),(3.25,-1.68,12),(3.55,-1.68,16),(3.85,-1.68,14),(4.15,-1.7,12),
(0.25,-1.93,20),(0.55,-1.93,18),(0.85,-1.93,24),(1.15,-1.93,22),(1.45,-1.93,14),(1.75,-1.93,12),(2.05,-1.93,16),(2.35,-1.93,10),(2.65,-1.93,12),(2.95,-1.93,14),(3.25,-1.93,16),(3.55,-1.93,12),(3.85,-1.93,14),(4.15,-1.93,16),(4.4,-1.95,14),
(0.4,-2.18,16),(0.7,-2.18,20),(1.0,-2.18,16),(1.3,-2.18,20),(1.6,-2.18,12),(1.9,-2.18,14),(2.2,-2.18,12),(2.5,-2.18,14),(2.8,-2.18,10),(3.1,-2.18,16),(3.4,-2.18,12),(3.7,-2.18,14),(4.0,-2.18,16),(4.3,-2.18,14),
(0.5,-2.43,18),(0.8,-2.43,24),(1.1,-2.43,16),(1.4,-2.43,18),(1.7,-2.43,14),(2.0,-2.43,20),(2.3,-2.43,12),(2.6,-2.43,14),(2.9,-2.43,12),(3.2,-2.43,16),(3.5,-2.43,14),(3.8,-2.43,12),(4.1,-2.43,18),(4.4,-2.43,14),
(0.55,-2.68,20),(0.85,-2.68,16),(1.15,-2.68,26),(1.45,-2.68,14),(1.75,-2.68,18),(2.05,-2.68,14),(2.35,-2.68,12),(2.65,-2.68,14),(2.95,-2.68,16),(3.25,-2.68,10),(3.55,-2.68,14),(3.85,-2.68,16),(4.15,-2.68,14),(4.45,-2.68,16),
(0.65,-2.93,18),(0.95,-2.93,28),(1.25,-2.93,14),(1.55,-2.93,18),(1.85,-2.93,16),(2.15,-2.93,14),(2.45,-2.93,12),(2.75,-2.93,16),(3.05,-2.93,14),(3.35,-2.93,12),(3.65,-2.93,20),(3.95,-2.93,24),(4.25,-2.93,30),(4.55,-2.93,18),
(0.8,-3.18,16),(1.1,-3.18,24),(1.4,-3.18,14),(2.15,-3.18,12),(2.45,-3.18,18),(2.75,-3.18,16),(3.05,-3.18,14),(3.35,-3.18,12),(3.65,-3.18,14),(4.3,-3.18,24),(4.6,-3.18,16),
(0.9,-3.43,18),(1.2,-3.43,26),(2.1,-3.43,12),(2.4,-3.43,14),(2.7,-3.43,18),(3.0,-3.43,12),(3.3,-3.43,16),(3.6,-3.43,14),(4.35,-3.43,14),(4.65,-3.43,20),
(1.0,-3.68,16),(1.3,-3.68,20),(1.6,-3.68,12),(1.9,-3.68,16),(2.2,-3.68,14),(2.5,-3.68,12),(2.8,-3.68,18),(3.1,-3.68,14),(3.4,-3.68,12),(3.7,-3.68,26),(4.05,-3.68,20),(4.5,-3.72,16),
(1.05,-3.93,20),(1.35,-3.93,16),(1.65,-3.93,14),(1.95,-3.93,12),(2.25,-3.93,14),(2.55,-3.93,12),(2.85,-3.93,18),(3.15,-3.93,14),(3.45,-3.93,26),(3.75,-3.93,24),(4.1,-3.93,18),(4.45,-3.98,20),(4.85,-3.92,28),
(1.15,-4.18,22),(1.45,-4.18,26),(1.75,-4.18,12),(2.05,-4.18,30),(2.35,-4.18,14),(2.65,-4.18,12),(2.95,-4.18,16),(3.25,-4.18,12),(3.55,-4.18,24),(3.85,-4.18,14),(4.1,-4.18,18),
(1.2,-4.43,18),(1.5,-4.43,14),(1.8,-4.43,16),(2.1,-4.43,20),(2.4,-4.43,12),(2.7,-4.43,16),(3.0,-4.43,14),(3.3,-4.43,12),(3.6,-4.43,16),(3.9,-4.43,14),(4.2,-4.43,18),(4.55,-4.45,16),
(1.25,-4.68,20),(1.55,-4.68,14),(1.85,-4.68,18),(2.15,-4.68,14),(2.45,-4.68,12),(2.75,-4.68,20),(3.05,-4.68,14),(3.35,-4.68,20),(3.65,-4.68,24),(3.95,-4.68,18),(4.25,-4.68,24),(4.55,-4.75,20),
(1.25,-4.93,18),(1.55,-4.93,24),(1.85,-4.93,14),(2.15,-4.93,16),(2.45,-4.93,12),(2.75,-4.93,18),(3.05,-4.93,14),(3.35,-4.93,18),(3.9,-4.93,22),(4.2,-4.93,26),(4.5,-4.98,22),
(1.25,-5.18,16),(1.55,-5.18,22),(1.85,-5.18,16),(2.15,-5.18,18),(2.45,-5.18,14),(2.75,-5.18,14),(3.05,-5.18,16),(3.4,-5.18,22),(4.2,-5.2,22),(4.45,-5.22,20),
(1.25,-5.47,14),(1.55,-5.43,16),(1.85,-5.43,18),(2.15,-5.43,16),(2.45,-5.43,18),(2.75,-5.43,16),(3.05,-5.43,14),(3.35,-5.45,22),(4.45,-5.5,18),
(1.45,-5.7,16),(1.75,-5.68,14),(2.05,-5.68,20),(2.35,-5.68,16),(2.65,-5.68,18),(2.95,-5.68,20),(3.3,-5.72,22),
(1.48,-5.95,14),(1.78,-5.93,18),(2.08,-5.95,16),(2.38,-5.93,20),(2.68,-5.93,16),(2.98,-5.95,22),(3.25,-5.97,18),
(1.5,-6.22,18),(1.8,-6.2,24),(2.1,-6.22,30),(2.4,-6.2,26),(2.7,-6.2,20),(3.0,-6.22,20),(3.3,-6.22,22),
(1.58,-6.47,20),(1.88,-6.45,28),(2.18,-6.47,34),(2.48,-6.45,22),(2.78,-6.47,22),(3.08,-6.47,18),
(1.62,-6.72,22),(1.92,-6.7,26),(2.22,-6.72,24),(2.52,-6.72,30),(2.82,-6.72,20),(3.12,-6.7,20),
(1.68,-6.97,24),(1.98,-6.95,22),(2.28,-6.97,30),(2.58,-6.97,22),(2.88,-6.97,20),
(1.7,-7.23,22),(2.0,-7.22,20),(2.3,-7.23,24),(2.6,-7.23,20),(2.85,-7.23,18),
]

streak = [
(4.65,1.5,40),(4.3,1.3,38),(3.75,1.0,44),(4.15,1.0,40),(5.0,1.0,34),(3.9,0.75,48),(4.3,0.75,40),(4.7,0.7,42),(3.95,0.55,40),(4.2,0.45,48),(4.5,0.5,42),(4.85,0.5,38),
(3.8,0.3,42),(4.1,0.25,46),(4.35,0.3,44),(4.6,0.2,42),(4.9,0.25,38),(2.9,0.35,40),(3.05,0.0,40),(3.4,-0.05,38),(3.75,0.0,46),(4.0,-0.05,48),(4.3,0.0,50),(4.6,-0.05,46),(4.85,-0.05,42),
(3.7,-0.25,46),(3.95,-0.25,52),(4.2,-0.25,50),(4.45,-0.2,54),(4.7,-0.3,48),(4.95,-0.3,58),(3.85,-0.5,52),(4.1,-0.5,48),(4.35,-0.5,54),(4.6,-0.5,52),(4.9,-0.5,48),
(3.4,-0.55,40),(3.85,-0.75,50),(4.1,-0.75,52),(4.35,-0.75,56),(4.6,-0.75,54),(4.85,-0.75,50),(4.95,-0.65,54),(4.3,-1.0,54),(4.55,-1.0,58),(4.8,-1.0,54),(4.9,-0.95,62),(4.4,-1.2,54),(4.65,-1.18,60),
(4.05,0.12,48),(4.45,0.1,50),(4.75,0.08,46),(3.9,-0.12,50),(4.15,-0.12,54),(4.35,-0.38,52),(4.6,-0.38,50),(4.1,-0.62,54),(4.5,-0.62,56),(4.45,-0.88,58),(4.7,-0.88,56),(4.1,0.62,44),(4.55,0.35,44),(4.6,-1.34,80),
]

clusters = [top_islet, left_lobe_more, left_lobe, arch_more, arch, tail, lower_blob, upper_band_more, upper_band, column_more, column, streak]
u1 = [c[0] for cl in clusters for c in cl]
u2 = [c[1] for cl in clusters for c in cl]
umi = [c[2] * 1000 for cl in clusters for c in cl]


def srgb_to_lab(rgb):
    lin = [(v / 12.92 if v <= 0.04045 else ((v + 0.055) / 1.055) ** 2.4) for v in rgb]
    x = (0.4124 * lin[0] + 0.3576 * lin[1] + 0.1805 * lin[2]) / 0.95047
    y = 0.2126 * lin[0] + 0.7152 * lin[1] + 0.0722 * lin[2]
    z = (0.0193 * lin[0] + 0.1192 * lin[1] + 0.9505 * lin[2]) / 1.08883
    f = lambda t: t ** (1 / 3) if t > 0.008856 else 7.787 * t + 16 / 116
    return 116 * f(y) - 16, 500 * (f(x) - f(y)), 200 * (f(y) - f(z))


def lab_to_hex(L, a, b):
    fy = (L + 16) / 116
    fx, fz = fy + a / 500, fy - b / 200
    g = lambda t: t ** 3 if t ** 3 > 0.008856 else (t - 16 / 116) / 7.787
    x, y, z = 0.95047 * g(fx), g(fy), 1.08883 * g(fz)
    r = 3.2406 * x - 1.5372 * y - 0.4986 * z
    gr = -0.9689 * x + 1.8758 * y + 0.0415 * z
    bl = 0.0557 * x - 0.2040 * y + 1.0570 * z
    enc = lambda v: max(0, min(255, round(255 * (12.92 * v if v <= 0.0031308 else 1.055 * max(v, 0) ** (1 / 2.4) - 0.055))))
    return "#%02x%02x%02x" % (enc(r), enc(gr), enc(bl))


lab0 = srgb_to_lab((211 / 255, 211 / 255, 211 / 255))
lab1 = srgb_to_lab((0, 0, 1))
palette = [lab_to_hex(*[lab0[j] + (lab1[j] - lab0[j]) * i / 255 for j in range(3)]) for i in range(256)]
mapper = LinearColorMapper(palette=palette, low=7500, high=80500)

FONT = "Liberation Sans"

# page-wide text layer underneath the plot: its units are the page's pixels
back = figure(width=582, height=552, output_backend="svg", toolbar_location=None,
              x_range=Range1d(0, 582), y_range=Range1d(552, 0),
              x_axis_location=None, y_axis_location=None,
              min_border_left=0, min_border_right=0, min_border_top=0, min_border_bottom=0,
              margin=(0, 0, 0, 0), frame_align=False)
back.outline_line_color = None
back.grid.visible = False
back.text(x=[310], y=[29], text=[title_text], text_font=value(FONT), text_font_size="25px",
          text_font_style="bold", text_align="center", text_baseline="middle", text_color="#000000")
back.text(x=[12], y=[26], text=[panel_letter], text_font=value(FONT), text_font_size="24px",
          text_align="left", text_baseline="middle", text_color="#000000")
back.text(x=[0, 0, 0, 0, 0], y=[241, 258, 276, 294, 312], text=clipped_digits, text_font=value(FONT),
          text_font_size="15.5px", text_align="left", text_baseline="middle", text_color="#000000")

p = figure(width=582, height=552, output_backend="svg", toolbar_location=None,
           x_range=Range1d(-12, 10), y_range=Range1d(-8.8, 8.83),
           min_border_left=72, min_border_right=99, min_border_top=44, min_border_bottom=46,
           x_axis_label=x_label, y_axis_label=y_label, margin=(-552, 0, 0, 0),
           background_fill_color=None, border_fill_color=None, frame_align=False)
p.outline_line_color = None
p.grid.visible = False

src = ColumnDataSource(dict(u1=u1, u2=u2, umi=umi))
p.scatter("u1", "u2", source=src, size=6.4, line_color=None,
          fill_color={"field": "umi", "transform": mapper})

for ax, ticks in ((p.xaxis[0], x_ticks), (p.yaxis[0], y_ticks)):
    ax.ticker = FixedTicker(ticks=ticks)
    ax.major_label_overrides = {t: str(t) for t in ticks}
    ax.axis_line_color = "#333333"
    ax.axis_line_width = 1.3
    ax.major_tick_line_color = "#333333"
    ax.major_tick_line_width = 1.1
    ax.major_tick_out = 4
    ax.major_tick_in = 0
    ax.minor_tick_line_color = None
    ax.major_label_text_font = FONT
    ax.major_label_text_font_size = "15.5px"
    ax.major_label_text_color = "#000000"
    ax.axis_label_text_font = FONT
    ax.axis_label_text_font_size = "18px"
    ax.axis_label_text_font_style = "normal"
    ax.axis_label_text_color = "#000000"
    ax.major_label_standoff = 4
p.xaxis[0].major_label_standoff = 5
p.xaxis[0].axis_label_standoff = 1
p.yaxis[0].axis_label_standoff = 0

bar = ColorBar(color_mapper=mapper, ticker=FixedTicker(ticks=bar_ticks), location=(430, 176),
               width=23, height=101, padding=0, margin=0, border_line_color=None,
               background_fill_color=None, major_tick_line_color="#ffffff", major_tick_in=5,
               major_tick_line_width=1, minor_tick_line_color=None, major_label_text_font=FONT,
               major_label_text_font_size="15.5px", major_label_text_color="#000000",
               label_standoff=6, bar_line_color=None)
p.add_layout(bar, "center")

page = col_layout(back, p, margin=(0, 0, 0, 0))
open("out.html", "w").write(file_html(page, INLINE))
